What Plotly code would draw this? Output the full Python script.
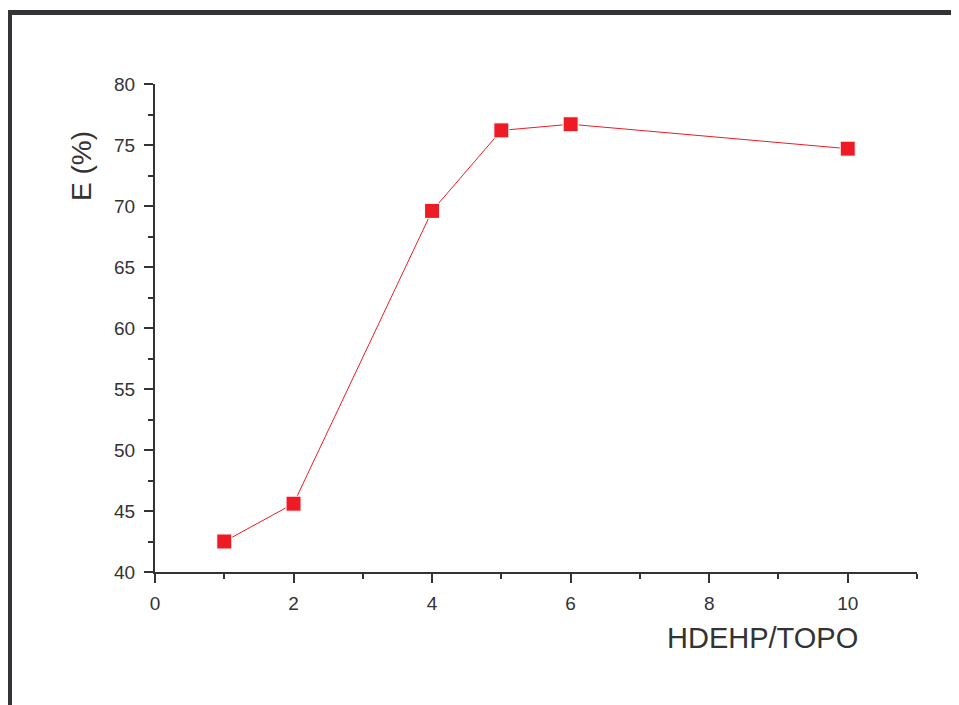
import plotly.graph_objects as go

ratio = [1, 2, 4, 5, 6, 10]
extraction = [42.5, 45.6, 69.6, 76.2, 76.7, 74.7]
x_ticks = [0, 2, 4, 6, 8, 10]
y_ticks = [40, 45, 50, 55, 60, 65, 70, 75, 80]

# page body has an 8px margin; build the figure so that it lands on the window
OFF = 8
WIN_W, WIN_H = 959, 705
W, H = WIN_W - OFF, WIN_H - OFF
# plot area in window pixels: x 155..917, y 84..572
L, R, T, B = 155 - OFF, WIN_W - 917, 84 - OFF, WIN_H - 572
pw, ph = W - L - R, H - T - B

def px(x):  # window pixel -> paper
    return (x - OFF - L) / pw

def py(y):
    return (H - B - (y - OFF)) / ph

axis_col = "#333333"
red = "#ed1c24"
font_family = "Liberation Sans, Arial, Helvetica, sans-serif"

fig = go.Figure()
fig.add_trace(go.Scatter(
    x=ratio, y=extraction, mode="lines+markers",
    line=dict(color=red, width=1),
    marker=dict(symbol="square", size=15, color=red, line=dict(color="white", width=1)),
    showlegend=False, cliponaxis=False,
))

fig.update_layout(
    width=W, height=H,
    margin=dict(l=L, r=R, t=T, b=B, pad=0),
    paper_bgcolor="white", plot_bgcolor="white",
    font=dict(family=font_family, color=axis_col, size=19),
    xaxis=dict(
        range=[0, 11], tickvals=x_ticks, ticks="outside", ticklen=9, tickwidth=2,
        tickcolor=axis_col, showline=True, linecolor=axis_col, linewidth=2,
        showgrid=False, zeroline=False, tickfont=dict(size=19),
        ticklabelstandoff=4,
        minor=dict(tickvals=[1, 3, 5, 7, 9, 11], ticks="outside", ticklen=5,
                   tickwidth=2, tickcolor=axis_col),
    ),
    yaxis=dict(
        range=[40, 80], tickvals=y_ticks, ticks="outside", ticklen=9, tickwidth=2,
        tickcolor=axis_col, showline=True, linecolor=axis_col, linewidth=2,
        showgrid=False, zeroline=False, tickfont=dict(size=19),
        ticklabelstandoff=5,
        minor=dict(dtick=2.5, ticks="outside", ticklen=5, tickwidth=2,
                   tickcolor=axis_col),
    ),
    annotations=[
        dict(text="HDEHP/TOPO", xref="paper", yref="paper",
             x=px(762), y=py(638), xanchor="center", yanchor="middle",
             showarrow=False, font=dict(size=29, color=axis_col)),
        dict(text="E (%)", xref="paper", yref="paper",
             x=px(81), y=py(166), xanchor="center", yanchor="middle",
             textangle=-90, showarrow=False, font=dict(size=28, color=axis_col)),
    ],
    shapes=[
        dict(type="rect", xref="paper", yref="paper",
             x0=px(7), x1=px(WIN_W + 5), y0=py(10), y1=py(15),
             fillcolor="#333338", line=dict(width=0), layer="above"),
        dict(type="rect", xref="paper", yref="paper",
             x0=px(7), x1=px(12), y0=py(10), y1=py(WIN_H + 5),
             fillcolor="#333338", line=dict(width=0), layer="above"),
    ],
)

fig.write_html("out.html")
